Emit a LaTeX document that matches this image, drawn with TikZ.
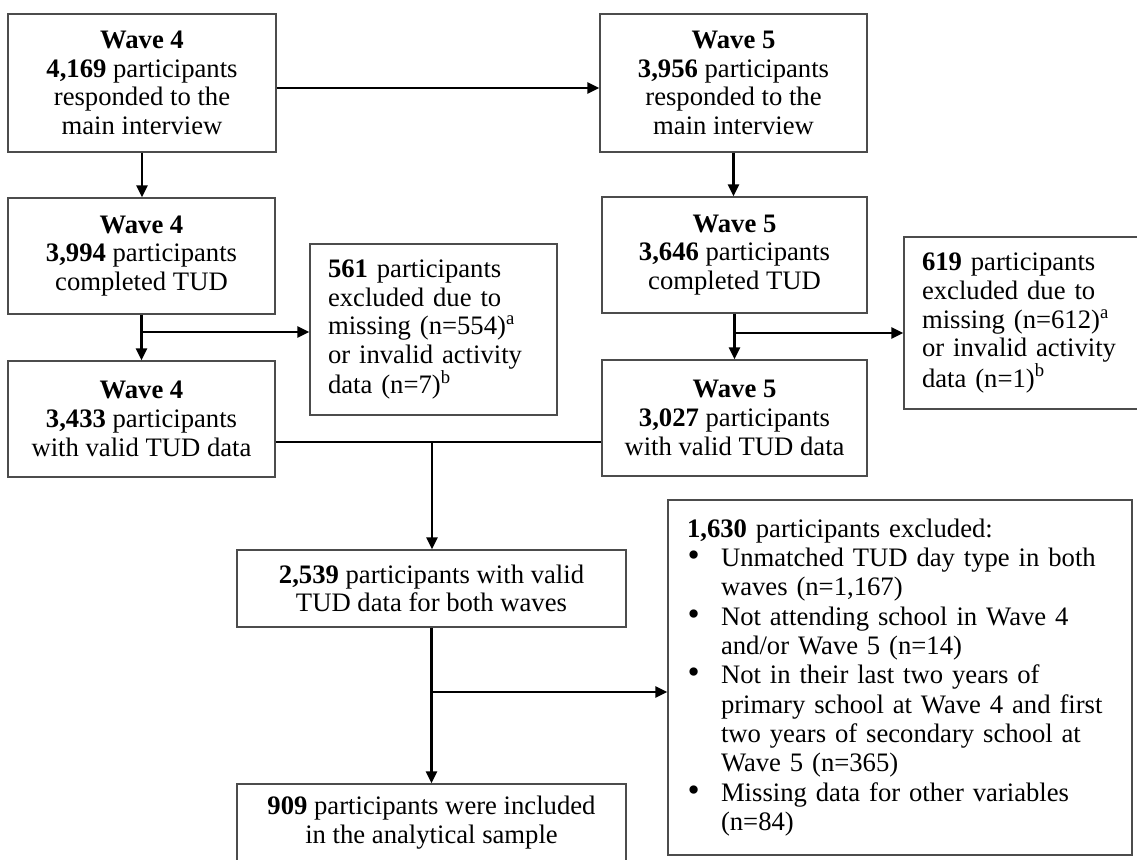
\documentclass[tikz,border=0pt]{standalone}
\usepackage{fontspec}
\setmainfont{Liberation Serif}
\usetikzlibrary{arrows.meta}
\newcommand{\bigbul}{\makebox[25.5pt][l]{\hspace{0.5pt}\smash{\scalebox{1.3}{\textbullet}}}}
\begin{document}
\begin{tikzpicture}[x=0.75pt,y=-0.75pt,
  every node/.style={font=\fontsize{20pt}{21.5pt}\selectfont},
  box/.style={draw=black!70,line width=1.1pt,rectangle,inner sep=0pt,align=center},
  lbox/.style={draw=black!70,line width=1.1pt,rectangle,inner ysep=0pt,inner xsep=13.5pt,align=left},
  conn/.style={line width=1.6pt,black},
  arr/.style={conn,-{Triangle[length=9pt,width=8.5pt]}}]
\clip (0,0) rectangle (1137,859);
\fill[white] (0,0) rectangle (1137,859);
% nodes
\node[box,minimum width=201pt,minimum height=103.5pt] (B1) at (142,83)
  {\textbf{Wave 4}\\\textbf{4,169} participants\\responded to the\\main interview};
\node[box,minimum width=200.25pt,minimum height=103.5pt] (B2) at (733.5,83)
  {\textbf{Wave 5}\\\textbf{3,956} participants\\responded to the\\main interview};
\node[box,minimum width=200.25pt,minimum height=87pt] (B3) at (141.5,256)
  {\textbf{Wave 4}\\\textbf{3,994} participants\\completed TUD};
\node[box,minimum width=198.75pt,minimum height=87pt] (B5) at (734.5,255)
  {\textbf{Wave 5}\\\textbf{3,646} participants\\completed TUD};
\node[lbox,text width=158.25pt,minimum height=128.25pt] (E1) at (433.5,329.5)
  {\textbf{561} participants\\excluded due to\\missing (n=554)\textsuperscript{a}\\or invalid activity\\data (n=7)\textsuperscript{b}};
\node[lbox,text width=158.25pt,minimum height=129pt] (E2) at (1027.5,323)
  {\textbf{619} participants\\excluded due to\\missing (n=612)\textsuperscript{a}\\or invalid activity\\data (n=1)\textsuperscript{b}};
\node[box,minimum width=200.25pt,minimum height=87pt] (B7) at (141.5,419)
  {\textbf{Wave 4}\\\textbf{3,433} participants\\with valid TUD data};
\node[box,minimum width=198.75pt,minimum height=87pt] (B8) at (734.5,418)
  {\textbf{Wave 5}\\\textbf{3,027} participants\\with valid TUD data};
\node[box,minimum width=291.75pt,minimum height=57.75pt] (C) at (431.5,588.5)
  {\textbf{2,539} participants with valid\\TUD data for both waves};
\node[lbox,inner xsep=14.25pt,text width=319.5pt,minimum height=266.25pt,
  font=\fontsize{20pt}{22pt}\selectfont] (X) at (900,677.5)
  {\textbf{1,630} participants excluded:\\
   \bigbul Unmatched TUD day type in both\\
   \hspace*{25.5pt}waves (n=1,167)\\
   \bigbul Not attending school in Wave 4\\
   \hspace*{25.5pt}and/or Wave 5 (n=14)\\
   \bigbul Not in their last two years of\\
   \hspace*{25.5pt}primary school at Wave 4 and first\\
   \hspace*{25.5pt}two years of secondary school at\\
   \hspace*{25.5pt}Wave 5 (n=365)\\
   \bigbul Missing data for other variables\\
   \hspace*{25.5pt}(n=84)};
\node[box,minimum width=291.75pt,minimum height=57.75pt] (F) at (431.5,822.5)
  {\textbf{909} participants were included\\in the analytical sample};
% connectors
\draw[arr] (B1.east |- 0,88) -- (B2.west |- 0,88);
\draw[arr] (B1.south) -- (B1.south |- B3.north);
\draw[arr] (B2.south) -- (B2.south |- B5.north);
\draw[arr] (B3.south) -- (B3.south |- B7.north);
\coordinate (J1) at (B3.south |- 0,332);
\draw[arr] (J1) -- (J1 -| E1.west);
\draw[arr] (B5.south) -- (B5.south |- B8.north);
\coordinate (J2) at (B5.south |- 0,333);
\draw[arr] (J2) -- (J2 -| E2.west);
\draw[conn,line width=1.2pt] (B7.east |- 0,442) -- (B8.west |- 0,442);
\coordinate (J) at (432,442);
\draw[arr] (J) -- (J |- C.north);
\draw[arr] (C.south) -- (C.south |- F.north);
\coordinate (K) at (C.south |- 0,692);
\draw[arr] (K) -- (K -| X.west);
\end{tikzpicture}
\end{document}
